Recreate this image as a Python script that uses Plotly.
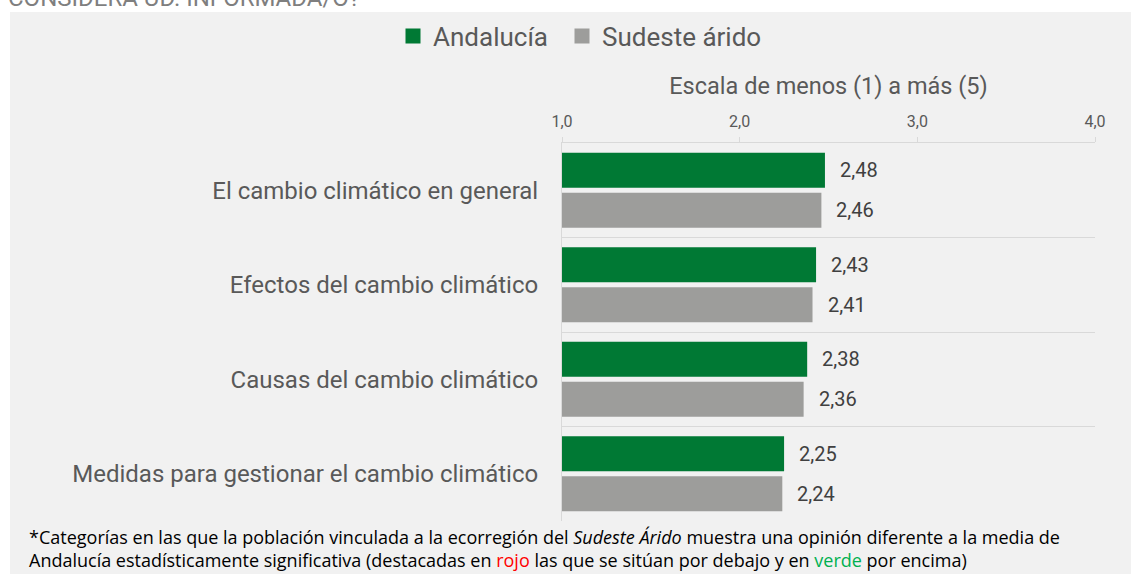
import plotly.graph_objects as go

categories = [
    "El cambio climático en general",
    "Efectos del cambio climático",
    "Causas del cambio climático",
    "Medidas para gestionar el cambio climático",
]
andalucia = [2.48, 2.43, 2.38, 2.25]
sudeste = [2.46, 2.41, 2.36, 2.24]
series_names = ["Andalucía", "Sudeste árido"]
x_ticks = [1.0, 2.0, 3.0, 4.0]
axis_title = "Escala de menos (1) a más (5)"
clipped_title = "CONSIDERA UD. INFORMADA/O?"
footnote = (
    "*Categorías en las que la población vinculada a la ecorregión del <i>Sudeste Árido</i> "
    "muestra una opinión diferente a la media de<br>"
    "Andalucía estadísticamente significativa (destacadas en "
    "<span style='color:#ff0000'>rojo</span> las que se sitúan por debajo y en "
    "<span style='color:#00b050'>verde</span> por encima)"
)

GREEN = "#007934"
GREY = "#9d9d9b"
PANEL = "#f1f1f1"
GRID = "#d9d9d9"
TEXT = "#595959"
FONT = "Roboto"
NOTE_FONT = "Open Sans"

W, H = 1131, 574
L, R, T, B = 562, 36, 143, 53
pw, ph = W - L - R, H - T - B


def px_x(p):
    return (p - L) / pw


def px_y(p):
    return (H - B - p) / ph


fig = go.Figure()
colors = [GREEN, GREY]
legend_ids = ["legend", "legend2"]
for name, vals, col in zip(series_names, (andalucia, sudeste), colors):
    fig.add_trace(go.Bar(orientation="h", y=categories, x=vals, name=name, showlegend=False,
                         marker=dict(color=col, line=dict(width=0))))
# legend entries (square swatches)
for name, col, lg in zip(series_names, colors, legend_ids):
    fig.add_trace(go.Scatter(x=[None], y=[None], mode="markers", name=name, showlegend=True,
                             legend=lg,
                             marker=dict(symbol="square", size=15, color=col, line=dict(width=0))))

annotations = []
for vals, shift in ((andalucia, 20), (sudeste, -20)):
    for c, v in zip(categories, vals):
        annotations.append(dict(
            x=v, y=c, xref="x", yref="y", text=f"{v:.2f}".replace(".", ","),
            showarrow=False, xanchor="left", yanchor="middle", xshift=13, yshift=shift,
            font=dict(family=FONT, size=20, color="#404040")))

annotations.append(dict(
    x=px_x(6), y=px_y(14), xref="paper", yref="paper", text=clipped_title,
    showarrow=False, xanchor="left", yanchor="bottom",
    font=dict(family=FONT, size=24, color="#7f7f7f")))
annotations.append(dict(
    x=px_x(27), y=px_y(523), xref="paper", yref="paper", text=footnote,
    showarrow=False, xanchor="left", yanchor="top", align="left",
    font=dict(family=NOTE_FONT, size=18, color="#000000")))

legend_common = dict(orientation="h", yanchor="middle", xanchor="left",
                     font=dict(family=FONT, size=26, color=TEXT), bgcolor="rgba(0,0,0,0)",
                     itemwidth=30, tracegroupgap=0, itemsizing="trace")

fig.update_layout(
    width=W, height=H,
    margin=dict(l=L, r=R, t=T, b=B, pad=0),
    paper_bgcolor="#ffffff",
    plot_bgcolor=PANEL,
    separators=",.",
    barmode="group",
    bargap=0.153,
    bargroupgap=0.125,
    font=dict(family=FONT, color=TEXT),
    showlegend=True,
    legend=dict(x=px_x(393), y=px_y(36), **legend_common),
    legend2=dict(x=px_x(562), y=px_y(36), **legend_common),
    annotations=annotations,
    shapes=[dict(type="rect", xref="paper", yref="paper", layer="below",
                 x0=px_x(10), x1=px_x(1140), y0=px_y(580), y1=px_y(12),
                 fillcolor=PANEL, line=dict(width=0))],
    xaxis=dict(
        side="top", range=[1, 4], tickvals=x_ticks, tickformat=".1f",
        showgrid=False, zeroline=False,
        showline=True, linecolor=GRID, linewidth=1,
        ticks="outside", ticklen=5, tickcolor=GRID, ticklabelstandoff=4,
        tickfont=dict(family=FONT, size=16, color=TEXT),
        title=dict(text=axis_title, standoff=10, font=dict(family=FONT, size=23.5, color=TEXT)),
    ),
    yaxis=dict(
        autorange="reversed", type="category", tickson="boundaries",
        showgrid=True, gridcolor=GRID, gridwidth=1,
        showline=True, linecolor=GRID, linewidth=1,
        ticks="", ticklabelstandoff=18,
        tickfont=dict(family=FONT, size=24, color=TEXT),
    ),
)

fig.write_html("out.html", config={"displayModeBar": False},
               post_script="document.body.style.margin='0';")
